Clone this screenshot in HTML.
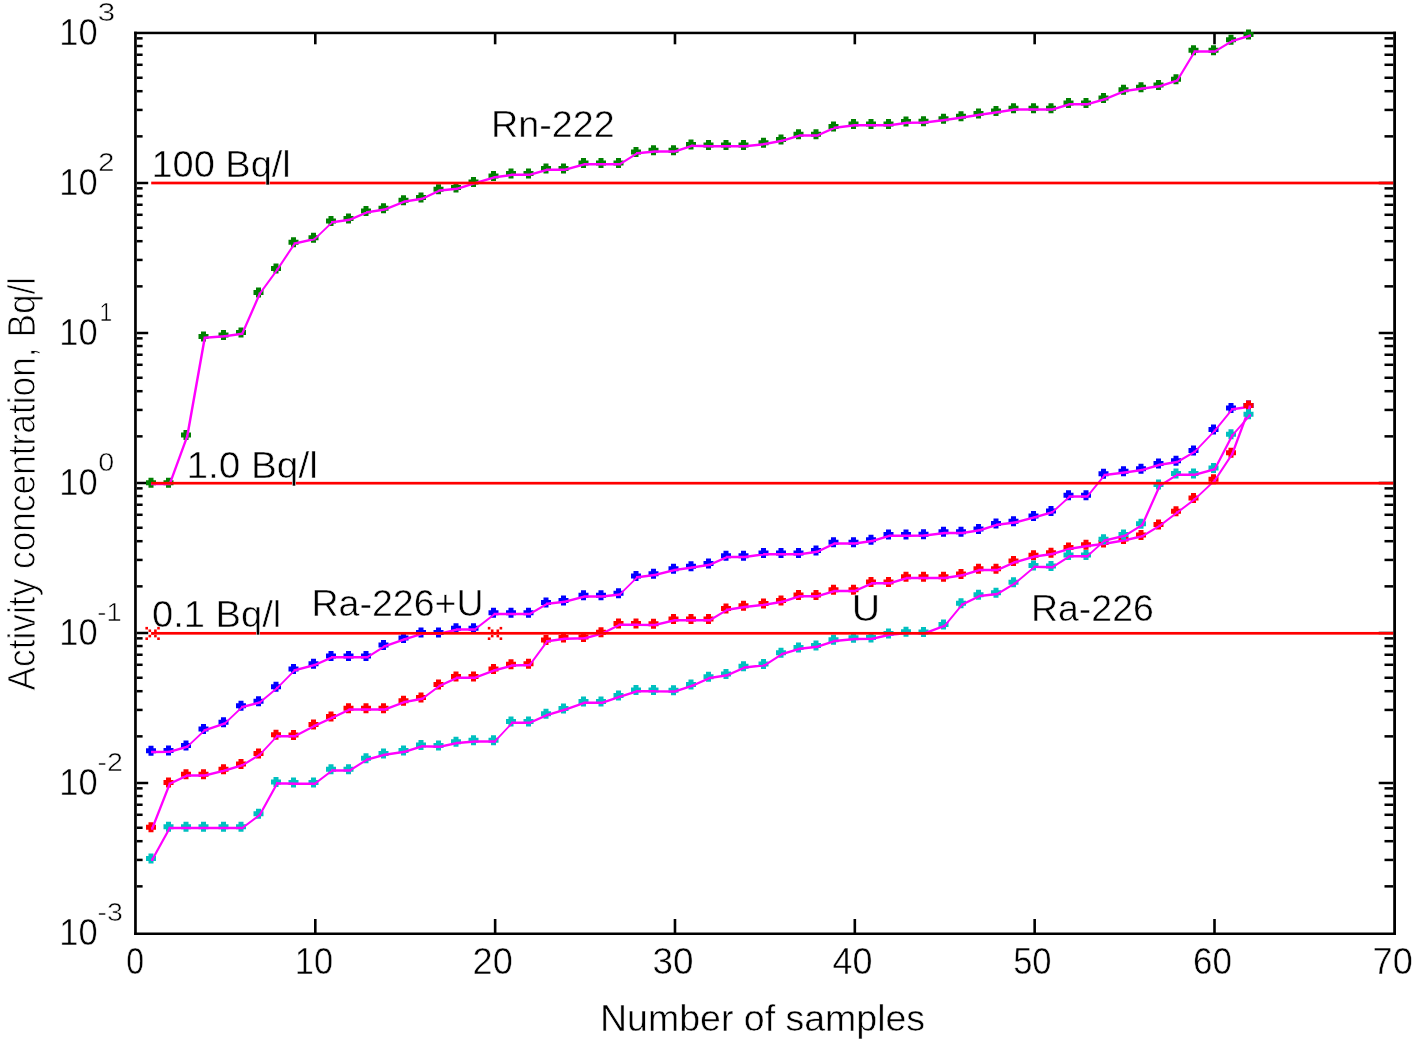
<!DOCTYPE html>
<html><head><meta charset="utf-8"><title>Activity concentration</title>
<style>html,body{margin:0;padding:0;background:#fff;overflow:hidden;}svg{display:block;}</style>
</head><body>
<svg width="1416" height="1041" viewBox="0 0 1416 1041">
<rect x="0" y="0" width="1416" height="1041" fill="#fff"/>
<g fill="#000">
<rect x="134.1" y="31.7" width="2.7" height="903.3"/>
<rect x="1393.2" y="31.7" width="2.8" height="903.3"/>
<rect x="134.1" y="31.7" width="1261.9" height="2.5"/>
<rect x="134.1" y="932.5" width="1261.9" height="2.5"/>
<rect x="136.8" y="885.10" width="5.8" height="2.5"/>
<rect x="1384.5" y="885.10" width="8.7" height="2.5"/>
<rect x="136.8" y="858.68" width="5.8" height="2.5"/>
<rect x="1384.5" y="858.68" width="8.7" height="2.5"/>
<rect x="136.8" y="839.94" width="5.8" height="2.5"/>
<rect x="1384.5" y="839.94" width="8.7" height="2.5"/>
<rect x="136.8" y="826.50" width="5.8" height="2.5"/>
<rect x="1384.5" y="826.50" width="8.7" height="2.5"/>
<rect x="136.8" y="813.53" width="5.8" height="2.5"/>
<rect x="1384.5" y="813.53" width="8.7" height="2.5"/>
<rect x="136.8" y="803.49" width="5.8" height="2.5"/>
<rect x="1384.5" y="803.49" width="8.7" height="2.5"/>
<rect x="136.8" y="794.79" width="5.8" height="2.5"/>
<rect x="1384.5" y="794.79" width="8.7" height="2.5"/>
<rect x="136.8" y="787.11" width="5.8" height="2.5"/>
<rect x="1384.5" y="787.11" width="8.7" height="2.5"/>
<rect x="136.8" y="781.75" width="11.4" height="2.5"/>
<rect x="1378.7" y="781.75" width="14.5" height="2.5"/>
<rect x="136.8" y="735.10" width="5.8" height="2.5"/>
<rect x="1384.5" y="735.10" width="8.7" height="2.5"/>
<rect x="136.8" y="708.68" width="5.8" height="2.5"/>
<rect x="1384.5" y="708.68" width="8.7" height="2.5"/>
<rect x="136.8" y="689.94" width="5.8" height="2.5"/>
<rect x="1384.5" y="689.94" width="8.7" height="2.5"/>
<rect x="136.8" y="676.50" width="5.8" height="2.5"/>
<rect x="1384.5" y="676.50" width="8.7" height="2.5"/>
<rect x="136.8" y="663.53" width="5.8" height="2.5"/>
<rect x="1384.5" y="663.53" width="8.7" height="2.5"/>
<rect x="136.8" y="653.49" width="5.8" height="2.5"/>
<rect x="1384.5" y="653.49" width="8.7" height="2.5"/>
<rect x="136.8" y="644.79" width="5.8" height="2.5"/>
<rect x="1384.5" y="644.79" width="8.7" height="2.5"/>
<rect x="136.8" y="637.11" width="5.8" height="2.5"/>
<rect x="1384.5" y="637.11" width="8.7" height="2.5"/>
<rect x="136.8" y="631.75" width="11.4" height="2.5"/>
<rect x="1378.7" y="631.75" width="14.5" height="2.5"/>
<rect x="136.8" y="585.10" width="5.8" height="2.5"/>
<rect x="1384.5" y="585.10" width="8.7" height="2.5"/>
<rect x="136.8" y="558.68" width="5.8" height="2.5"/>
<rect x="1384.5" y="558.68" width="8.7" height="2.5"/>
<rect x="136.8" y="539.94" width="5.8" height="2.5"/>
<rect x="1384.5" y="539.94" width="8.7" height="2.5"/>
<rect x="136.8" y="526.50" width="5.8" height="2.5"/>
<rect x="1384.5" y="526.50" width="8.7" height="2.5"/>
<rect x="136.8" y="513.53" width="5.8" height="2.5"/>
<rect x="1384.5" y="513.53" width="8.7" height="2.5"/>
<rect x="136.8" y="503.49" width="5.8" height="2.5"/>
<rect x="1384.5" y="503.49" width="8.7" height="2.5"/>
<rect x="136.8" y="494.79" width="5.8" height="2.5"/>
<rect x="1384.5" y="494.79" width="8.7" height="2.5"/>
<rect x="136.8" y="487.11" width="5.8" height="2.5"/>
<rect x="1384.5" y="487.11" width="8.7" height="2.5"/>
<rect x="136.8" y="481.75" width="11.4" height="2.5"/>
<rect x="1378.7" y="481.75" width="14.5" height="2.5"/>
<rect x="136.8" y="435.10" width="5.8" height="2.5"/>
<rect x="1384.5" y="435.10" width="8.7" height="2.5"/>
<rect x="136.8" y="408.68" width="5.8" height="2.5"/>
<rect x="1384.5" y="408.68" width="8.7" height="2.5"/>
<rect x="136.8" y="389.94" width="5.8" height="2.5"/>
<rect x="1384.5" y="389.94" width="8.7" height="2.5"/>
<rect x="136.8" y="376.50" width="5.8" height="2.5"/>
<rect x="1384.5" y="376.50" width="8.7" height="2.5"/>
<rect x="136.8" y="363.53" width="5.8" height="2.5"/>
<rect x="1384.5" y="363.53" width="8.7" height="2.5"/>
<rect x="136.8" y="353.49" width="5.8" height="2.5"/>
<rect x="1384.5" y="353.49" width="8.7" height="2.5"/>
<rect x="136.8" y="344.79" width="5.8" height="2.5"/>
<rect x="1384.5" y="344.79" width="8.7" height="2.5"/>
<rect x="136.8" y="337.11" width="5.8" height="2.5"/>
<rect x="1384.5" y="337.11" width="8.7" height="2.5"/>
<rect x="136.8" y="331.75" width="11.4" height="2.5"/>
<rect x="1378.7" y="331.75" width="14.5" height="2.5"/>
<rect x="136.8" y="285.10" width="5.8" height="2.5"/>
<rect x="1384.5" y="285.10" width="8.7" height="2.5"/>
<rect x="136.8" y="258.68" width="5.8" height="2.5"/>
<rect x="1384.5" y="258.68" width="8.7" height="2.5"/>
<rect x="136.8" y="239.94" width="5.8" height="2.5"/>
<rect x="1384.5" y="239.94" width="8.7" height="2.5"/>
<rect x="136.8" y="226.50" width="5.8" height="2.5"/>
<rect x="1384.5" y="226.50" width="8.7" height="2.5"/>
<rect x="136.8" y="213.53" width="5.8" height="2.5"/>
<rect x="1384.5" y="213.53" width="8.7" height="2.5"/>
<rect x="136.8" y="203.49" width="5.8" height="2.5"/>
<rect x="1384.5" y="203.49" width="8.7" height="2.5"/>
<rect x="136.8" y="194.79" width="5.8" height="2.5"/>
<rect x="1384.5" y="194.79" width="8.7" height="2.5"/>
<rect x="136.8" y="187.11" width="5.8" height="2.5"/>
<rect x="1384.5" y="187.11" width="8.7" height="2.5"/>
<rect x="136.8" y="181.75" width="11.4" height="2.5"/>
<rect x="1378.7" y="181.75" width="14.5" height="2.5"/>
<rect x="136.8" y="135.10" width="5.8" height="2.5"/>
<rect x="1384.5" y="135.10" width="8.7" height="2.5"/>
<rect x="136.8" y="108.68" width="5.8" height="2.5"/>
<rect x="1384.5" y="108.68" width="8.7" height="2.5"/>
<rect x="136.8" y="89.94" width="5.8" height="2.5"/>
<rect x="1384.5" y="89.94" width="8.7" height="2.5"/>
<rect x="136.8" y="76.50" width="5.8" height="2.5"/>
<rect x="1384.5" y="76.50" width="8.7" height="2.5"/>
<rect x="136.8" y="63.53" width="5.8" height="2.5"/>
<rect x="1384.5" y="63.53" width="8.7" height="2.5"/>
<rect x="136.8" y="53.49" width="5.8" height="2.5"/>
<rect x="1384.5" y="53.49" width="8.7" height="2.5"/>
<rect x="136.8" y="44.79" width="5.8" height="2.5"/>
<rect x="1384.5" y="44.79" width="8.7" height="2.5"/>
<rect x="136.8" y="37.11" width="5.8" height="2.5"/>
<rect x="1384.5" y="37.11" width="8.7" height="2.5"/>
<rect x="314.00" y="919.0" width="2.6" height="14"/>
<rect x="314.00" y="33" width="2.6" height="11.3"/>
<rect x="493.84" y="919.0" width="2.6" height="14"/>
<rect x="493.84" y="33" width="2.6" height="11.3"/>
<rect x="673.68" y="919.0" width="2.6" height="14"/>
<rect x="673.68" y="33" width="2.6" height="11.3"/>
<rect x="853.52" y="919.0" width="2.6" height="14"/>
<rect x="853.52" y="33" width="2.6" height="11.3"/>
<rect x="1033.36" y="919.0" width="2.6" height="14"/>
<rect x="1033.36" y="33" width="2.6" height="11.3"/>
<rect x="1213.20" y="919.0" width="2.6" height="14"/>
<rect x="1213.20" y="33" width="2.6" height="11.3"/>
</g>
<path d="M148.50,477.70h5v2.5h2.5v5h-2.5v2.5h-5v-2.5h-2.5v-5h2.5zM166.00,477.70h5v2.5h2.5v5h-2.5v2.5h-5v-2.5h-2.5v-5h2.5zM183.50,430.00h5v2.5h2.5v5h-2.5v2.5h-5v-2.5h-2.5v-5h2.5zM201.00,331.50h5v2.5h2.5v5h-2.5v2.5h-5v-2.5h-2.5v-5h2.5zM221.00,330.00h5v2.5h2.5v5h-2.5v2.5h-5v-2.5h-2.5v-5h2.5zM238.50,327.50h5v2.5h2.5v5h-2.5v2.5h-5v-2.5h-2.5v-5h2.5zM256.00,287.60h5v2.5h2.5v5h-2.5v2.5h-5v-2.5h-2.5v-5h2.5zM273.50,263.40h5v2.5h2.5v5h-2.5v2.5h-5v-2.5h-2.5v-5h2.5zM291.00,237.20h5v2.5h2.5v5h-2.5v2.5h-5v-2.5h-2.5v-5h2.5zM311.00,232.70h5v2.5h2.5v5h-2.5v2.5h-5v-2.5h-2.5v-5h2.5zM328.50,215.90h5v2.5h2.5v5h-2.5v2.5h-5v-2.5h-2.5v-5h2.5zM346.00,213.50h5v2.5h2.5v5h-2.5v2.5h-5v-2.5h-2.5v-5h2.5zM363.50,206.00h5v2.5h2.5v5h-2.5v2.5h-5v-2.5h-2.5v-5h2.5zM381.00,203.20h5v2.5h2.5v5h-2.5v2.5h-5v-2.5h-2.5v-5h2.5zM401.00,195.20h5v2.5h2.5v5h-2.5v2.5h-5v-2.5h-2.5v-5h2.5zM418.50,192.60h5v2.5h2.5v5h-2.5v2.5h-5v-2.5h-2.5v-5h2.5zM436.00,184.30h5v2.5h2.5v5h-2.5v2.5h-5v-2.5h-2.5v-5h2.5zM453.50,182.60h5v2.5h2.5v5h-2.5v2.5h-5v-2.5h-2.5v-5h2.5zM471.00,176.90h5v2.5h2.5v5h-2.5v2.5h-5v-2.5h-2.5v-5h2.5zM491.00,171.10h5v2.5h2.5v5h-2.5v2.5h-5v-2.5h-2.5v-5h2.5zM508.50,168.60h5v2.5h2.5v5h-2.5v2.5h-5v-2.5h-2.5v-5h2.5zM526.00,168.60h5v2.5h2.5v5h-2.5v2.5h-5v-2.5h-2.5v-5h2.5zM543.50,163.40h5v2.5h2.5v5h-2.5v2.5h-5v-2.5h-2.5v-5h2.5zM561.00,163.40h5v2.5h2.5v5h-2.5v2.5h-5v-2.5h-2.5v-5h2.5zM581.00,158.00h5v2.5h2.5v5h-2.5v2.5h-5v-2.5h-2.5v-5h2.5zM598.50,158.00h5v2.5h2.5v5h-2.5v2.5h-5v-2.5h-2.5v-5h2.5zM616.00,158.00h5v2.5h2.5v5h-2.5v2.5h-5v-2.5h-2.5v-5h2.5zM633.50,147.10h5v2.5h2.5v5h-2.5v2.5h-5v-2.5h-2.5v-5h2.5zM651.00,145.30h5v2.5h2.5v5h-2.5v2.5h-5v-2.5h-2.5v-5h2.5zM671.00,145.30h5v2.5h2.5v5h-2.5v2.5h-5v-2.5h-2.5v-5h2.5zM688.50,139.50h5v2.5h2.5v5h-2.5v2.5h-5v-2.5h-2.5v-5h2.5zM706.00,140.10h5v2.5h2.5v5h-2.5v2.5h-5v-2.5h-2.5v-5h2.5zM723.50,140.10h5v2.5h2.5v5h-2.5v2.5h-5v-2.5h-2.5v-5h2.5zM741.00,140.10h5v2.5h2.5v5h-2.5v2.5h-5v-2.5h-2.5v-5h2.5zM761.00,137.80h5v2.5h2.5v5h-2.5v2.5h-5v-2.5h-2.5v-5h2.5zM778.50,134.40h5v2.5h2.5v5h-2.5v2.5h-5v-2.5h-2.5v-5h2.5zM796.00,129.20h5v2.5h2.5v5h-2.5v2.5h-5v-2.5h-2.5v-5h2.5zM813.50,129.20h5v2.5h2.5v5h-2.5v2.5h-5v-2.5h-2.5v-5h2.5zM831.00,121.50h5v2.5h2.5v5h-2.5v2.5h-5v-2.5h-2.5v-5h2.5zM851.00,119.00h5v2.5h2.5v5h-2.5v2.5h-5v-2.5h-2.5v-5h2.5zM868.50,119.00h5v2.5h2.5v5h-2.5v2.5h-5v-2.5h-2.5v-5h2.5zM886.00,119.00h5v2.5h2.5v5h-2.5v2.5h-5v-2.5h-2.5v-5h2.5zM903.50,116.60h5v2.5h2.5v5h-2.5v2.5h-5v-2.5h-2.5v-5h2.5zM921.00,116.30h5v2.5h2.5v5h-2.5v2.5h-5v-2.5h-2.5v-5h2.5zM941.00,113.80h5v2.5h2.5v5h-2.5v2.5h-5v-2.5h-2.5v-5h2.5zM958.50,111.20h5v2.5h2.5v5h-2.5v2.5h-5v-2.5h-2.5v-5h2.5zM976.00,108.50h5v2.5h2.5v5h-2.5v2.5h-5v-2.5h-2.5v-5h2.5zM993.50,106.00h5v2.5h2.5v5h-2.5v2.5h-5v-2.5h-2.5v-5h2.5zM1011.00,103.20h5v2.5h2.5v5h-2.5v2.5h-5v-2.5h-2.5v-5h2.5zM1031.00,103.20h5v2.5h2.5v5h-2.5v2.5h-5v-2.5h-2.5v-5h2.5zM1048.50,103.20h5v2.5h2.5v5h-2.5v2.5h-5v-2.5h-2.5v-5h2.5zM1066.00,97.90h5v2.5h2.5v5h-2.5v2.5h-5v-2.5h-2.5v-5h2.5zM1083.50,98.10h5v2.5h2.5v5h-2.5v2.5h-5v-2.5h-2.5v-5h2.5zM1101.00,93.00h5v2.5h2.5v5h-2.5v2.5h-5v-2.5h-2.5v-5h2.5zM1121.00,84.80h5v2.5h2.5v5h-2.5v2.5h-5v-2.5h-2.5v-5h2.5zM1138.50,82.30h5v2.5h2.5v5h-2.5v2.5h-5v-2.5h-2.5v-5h2.5zM1156.00,79.90h5v2.5h2.5v5h-2.5v2.5h-5v-2.5h-2.5v-5h2.5zM1173.50,74.20h5v2.5h2.5v5h-2.5v2.5h-5v-2.5h-2.5v-5h2.5zM1191.00,45.30h5v2.5h2.5v5h-2.5v2.5h-5v-2.5h-2.5v-5h2.5zM1211.00,45.30h5v2.5h2.5v5h-2.5v2.5h-5v-2.5h-2.5v-5h2.5zM1228.50,34.70h5v2.5h2.5v5h-2.5v2.5h-5v-2.5h-2.5v-5h2.5zM1246.00,29.40h5v2.5h2.5v5h-2.5v2.5h-5v-2.5h-2.5v-5h2.5z" fill="#008000"/>
<path d="M152.25,482.70L169.75,482.70L169.75,485.20L152.25,485.20zM168.50,483.95L186.00,436.25L188.50,436.25L171.00,483.95zM186.00,436.25L203.50,337.75L206.00,337.75L188.50,436.25zM204.75,336.50L224.75,335.00L224.75,337.50L204.75,339.00zM224.75,335.00L242.25,332.50L242.25,335.00L224.75,337.50zM241.00,333.75L258.50,293.85L261.00,293.85L243.50,333.75zM258.50,293.85L276.00,269.65L278.50,269.65L261.00,293.85zM276.00,269.65L293.50,243.45L296.00,243.45L278.50,269.65zM294.75,242.20L314.75,237.70L314.75,240.20L294.75,244.70zM314.75,237.70L332.25,220.90L332.25,223.40L314.75,240.20zM332.25,220.90L349.75,218.50L349.75,221.00L332.25,223.40zM349.75,218.50L367.25,211.00L367.25,213.50L349.75,221.00zM367.25,211.00L384.75,208.20L384.75,210.70L367.25,213.50zM384.75,208.20L404.75,200.20L404.75,202.70L384.75,210.70zM404.75,200.20L422.25,197.60L422.25,200.10L404.75,202.70zM422.25,197.60L439.75,189.30L439.75,191.80L422.25,200.10zM439.75,189.30L457.25,187.60L457.25,190.10L439.75,191.80zM457.25,187.60L474.75,181.90L474.75,184.40L457.25,190.10zM474.75,181.90L494.75,176.10L494.75,178.60L474.75,184.40zM494.75,176.10L512.25,173.60L512.25,176.10L494.75,178.60zM512.25,173.60L529.75,173.60L529.75,176.10L512.25,176.10zM529.75,173.60L547.25,168.40L547.25,170.90L529.75,176.10zM547.25,168.40L564.75,168.40L564.75,170.90L547.25,170.90zM564.75,168.40L584.75,163.00L584.75,165.50L564.75,170.90zM584.75,163.00L602.25,163.00L602.25,165.50L584.75,165.50zM602.25,163.00L619.75,163.00L619.75,165.50L602.25,165.50zM619.75,163.00L637.25,152.10L637.25,154.60L619.75,165.50zM637.25,152.10L654.75,150.30L654.75,152.80L637.25,154.60zM654.75,150.30L674.75,150.30L674.75,152.80L654.75,152.80zM674.75,150.30L692.25,144.50L692.25,147.00L674.75,152.80zM692.25,144.50L709.75,145.10L709.75,147.60L692.25,147.00zM709.75,145.10L727.25,145.10L727.25,147.60L709.75,147.60zM727.25,145.10L744.75,145.10L744.75,147.60L727.25,147.60zM744.75,145.10L764.75,142.80L764.75,145.30L744.75,147.60zM764.75,142.80L782.25,139.40L782.25,141.90L764.75,145.30zM782.25,139.40L799.75,134.20L799.75,136.70L782.25,141.90zM799.75,134.20L817.25,134.20L817.25,136.70L799.75,136.70zM817.25,134.20L834.75,126.50L834.75,129.00L817.25,136.70zM834.75,126.50L854.75,124.00L854.75,126.50L834.75,129.00zM854.75,124.00L872.25,124.00L872.25,126.50L854.75,126.50zM872.25,124.00L889.75,124.00L889.75,126.50L872.25,126.50zM889.75,124.00L907.25,121.60L907.25,124.10L889.75,126.50zM907.25,121.60L924.75,121.30L924.75,123.80L907.25,124.10zM924.75,121.30L944.75,118.80L944.75,121.30L924.75,123.80zM944.75,118.80L962.25,116.20L962.25,118.70L944.75,121.30zM962.25,116.20L979.75,113.50L979.75,116.00L962.25,118.70zM979.75,113.50L997.25,111.00L997.25,113.50L979.75,116.00zM997.25,111.00L1014.75,108.20L1014.75,110.70L997.25,113.50zM1014.75,108.20L1034.75,108.20L1034.75,110.70L1014.75,110.70zM1034.75,108.20L1052.25,108.20L1052.25,110.70L1034.75,110.70zM1052.25,108.20L1069.75,102.90L1069.75,105.40L1052.25,110.70zM1069.75,102.90L1087.25,103.10L1087.25,105.60L1069.75,105.40zM1087.25,103.10L1104.75,98.00L1104.75,100.50L1087.25,105.60zM1104.75,98.00L1124.75,89.80L1124.75,92.30L1104.75,100.50zM1124.75,89.80L1142.25,87.30L1142.25,89.80L1124.75,92.30zM1142.25,87.30L1159.75,84.90L1159.75,87.40L1142.25,89.80zM1159.75,84.90L1177.25,79.20L1177.25,81.70L1159.75,87.40zM1176.00,80.45L1193.50,51.55L1196.00,51.55L1178.50,80.45zM1194.75,50.30L1214.75,50.30L1214.75,52.80L1194.75,52.80zM1214.75,50.30L1232.25,39.70L1232.25,42.20L1214.75,52.80zM1232.25,39.70L1249.75,34.40L1249.75,36.90L1232.25,42.20zM151.00,482.70h2.5v2.5h-2.5zM168.50,482.70h2.5v2.5h-2.5zM186.00,435.00h2.5v2.5h-2.5zM203.50,336.50h2.5v2.5h-2.5zM223.50,335.00h2.5v2.5h-2.5zM241.00,332.50h2.5v2.5h-2.5zM258.50,292.60h2.5v2.5h-2.5zM276.00,268.40h2.5v2.5h-2.5zM293.50,242.20h2.5v2.5h-2.5zM313.50,237.70h2.5v2.5h-2.5zM331.00,220.90h2.5v2.5h-2.5zM348.50,218.50h2.5v2.5h-2.5zM366.00,211.00h2.5v2.5h-2.5zM383.50,208.20h2.5v2.5h-2.5zM403.50,200.20h2.5v2.5h-2.5zM421.00,197.60h2.5v2.5h-2.5zM438.50,189.30h2.5v2.5h-2.5zM456.00,187.60h2.5v2.5h-2.5zM473.50,181.90h2.5v2.5h-2.5zM493.50,176.10h2.5v2.5h-2.5zM511.00,173.60h2.5v2.5h-2.5zM528.50,173.60h2.5v2.5h-2.5zM546.00,168.40h2.5v2.5h-2.5zM563.50,168.40h2.5v2.5h-2.5zM583.50,163.00h2.5v2.5h-2.5zM601.00,163.00h2.5v2.5h-2.5zM618.50,163.00h2.5v2.5h-2.5zM636.00,152.10h2.5v2.5h-2.5zM653.50,150.30h2.5v2.5h-2.5zM673.50,150.30h2.5v2.5h-2.5zM691.00,144.50h2.5v2.5h-2.5zM708.50,145.10h2.5v2.5h-2.5zM726.00,145.10h2.5v2.5h-2.5zM743.50,145.10h2.5v2.5h-2.5zM763.50,142.80h2.5v2.5h-2.5zM781.00,139.40h2.5v2.5h-2.5zM798.50,134.20h2.5v2.5h-2.5zM816.00,134.20h2.5v2.5h-2.5zM833.50,126.50h2.5v2.5h-2.5zM853.50,124.00h2.5v2.5h-2.5zM871.00,124.00h2.5v2.5h-2.5zM888.50,124.00h2.5v2.5h-2.5zM906.00,121.60h2.5v2.5h-2.5zM923.50,121.30h2.5v2.5h-2.5zM943.50,118.80h2.5v2.5h-2.5zM961.00,116.20h2.5v2.5h-2.5zM978.50,113.50h2.5v2.5h-2.5zM996.00,111.00h2.5v2.5h-2.5zM1013.50,108.20h2.5v2.5h-2.5zM1033.50,108.20h2.5v2.5h-2.5zM1051.00,108.20h2.5v2.5h-2.5zM1068.50,102.90h2.5v2.5h-2.5zM1086.00,103.10h2.5v2.5h-2.5zM1103.50,98.00h2.5v2.5h-2.5zM1123.50,89.80h2.5v2.5h-2.5zM1141.00,87.30h2.5v2.5h-2.5zM1158.50,84.90h2.5v2.5h-2.5zM1176.00,79.20h2.5v2.5h-2.5zM1193.50,50.30h2.5v2.5h-2.5zM1213.50,50.30h2.5v2.5h-2.5zM1231.00,39.70h2.5v2.5h-2.5zM1248.50,34.40h2.5v2.5h-2.5z" fill="#ff00ff"/>
<path d="M148.50,745.70h5v2.5h2.5v5h-2.5v2.5h-5v-2.5h-2.5v-5h2.5zM166.00,745.60h5v2.5h2.5v5h-2.5v2.5h-5v-2.5h-2.5v-5h2.5zM183.50,740.50h5v2.5h2.5v5h-2.5v2.5h-5v-2.5h-2.5v-5h2.5zM201.00,723.90h5v2.5h2.5v5h-2.5v2.5h-5v-2.5h-2.5v-5h2.5zM221.00,717.20h5v2.5h2.5v5h-2.5v2.5h-5v-2.5h-2.5v-5h2.5zM238.50,700.80h5v2.5h2.5v5h-2.5v2.5h-5v-2.5h-2.5v-5h2.5zM256.00,696.20h5v2.5h2.5v5h-2.5v2.5h-5v-2.5h-2.5v-5h2.5zM273.50,681.80h5v2.5h2.5v5h-2.5v2.5h-5v-2.5h-2.5v-5h2.5zM291.00,664.00h5v2.5h2.5v5h-2.5v2.5h-5v-2.5h-2.5v-5h2.5zM311.00,658.80h5v2.5h2.5v5h-2.5v2.5h-5v-2.5h-2.5v-5h2.5zM328.50,651.10h5v2.5h2.5v5h-2.5v2.5h-5v-2.5h-2.5v-5h2.5zM346.00,651.10h5v2.5h2.5v5h-2.5v2.5h-5v-2.5h-2.5v-5h2.5zM363.50,651.10h5v2.5h2.5v5h-2.5v2.5h-5v-2.5h-2.5v-5h2.5zM381.00,639.90h5v2.5h2.5v5h-2.5v2.5h-5v-2.5h-2.5v-5h2.5zM401.00,633.10h5v2.5h2.5v5h-2.5v2.5h-5v-2.5h-2.5v-5h2.5zM418.50,627.60h5v2.5h2.5v5h-2.5v2.5h-5v-2.5h-2.5v-5h2.5zM436.00,627.60h5v2.5h2.5v5h-2.5v2.5h-5v-2.5h-2.5v-5h2.5zM453.50,623.20h5v2.5h2.5v5h-2.5v2.5h-5v-2.5h-2.5v-5h2.5zM471.00,623.20h5v2.5h2.5v5h-2.5v2.5h-5v-2.5h-2.5v-5h2.5zM491.00,607.80h5v2.5h2.5v5h-2.5v2.5h-5v-2.5h-2.5v-5h2.5zM508.50,607.80h5v2.5h2.5v5h-2.5v2.5h-5v-2.5h-2.5v-5h2.5zM526.00,607.80h5v2.5h2.5v5h-2.5v2.5h-5v-2.5h-2.5v-5h2.5zM543.50,597.50h5v2.5h2.5v5h-2.5v2.5h-5v-2.5h-2.5v-5h2.5zM561.00,595.40h5v2.5h2.5v5h-2.5v2.5h-5v-2.5h-2.5v-5h2.5zM581.00,590.20h5v2.5h2.5v5h-2.5v2.5h-5v-2.5h-2.5v-5h2.5zM598.50,590.20h5v2.5h2.5v5h-2.5v2.5h-5v-2.5h-2.5v-5h2.5zM616.00,588.30h5v2.5h2.5v5h-2.5v2.5h-5v-2.5h-2.5v-5h2.5zM633.50,571.00h5v2.5h2.5v5h-2.5v2.5h-5v-2.5h-2.5v-5h2.5zM651.00,568.80h5v2.5h2.5v5h-2.5v2.5h-5v-2.5h-2.5v-5h2.5zM671.00,563.80h5v2.5h2.5v5h-2.5v2.5h-5v-2.5h-2.5v-5h2.5zM688.50,561.30h5v2.5h2.5v5h-2.5v2.5h-5v-2.5h-2.5v-5h2.5zM706.00,558.40h5v2.5h2.5v5h-2.5v2.5h-5v-2.5h-2.5v-5h2.5zM723.50,550.70h5v2.5h2.5v5h-2.5v2.5h-5v-2.5h-2.5v-5h2.5zM741.00,550.70h5v2.5h2.5v5h-2.5v2.5h-5v-2.5h-2.5v-5h2.5zM761.00,547.90h5v2.5h2.5v5h-2.5v2.5h-5v-2.5h-2.5v-5h2.5zM778.50,547.90h5v2.5h2.5v5h-2.5v2.5h-5v-2.5h-2.5v-5h2.5zM796.00,547.90h5v2.5h2.5v5h-2.5v2.5h-5v-2.5h-2.5v-5h2.5zM813.50,545.40h5v2.5h2.5v5h-2.5v2.5h-5v-2.5h-2.5v-5h2.5zM831.00,537.30h5v2.5h2.5v5h-2.5v2.5h-5v-2.5h-2.5v-5h2.5zM851.00,537.30h5v2.5h2.5v5h-2.5v2.5h-5v-2.5h-2.5v-5h2.5zM868.50,534.80h5v2.5h2.5v5h-2.5v2.5h-5v-2.5h-2.5v-5h2.5zM886.00,529.60h5v2.5h2.5v5h-2.5v2.5h-5v-2.5h-2.5v-5h2.5zM903.50,529.40h5v2.5h2.5v5h-2.5v2.5h-5v-2.5h-2.5v-5h2.5zM921.00,529.20h5v2.5h2.5v5h-2.5v2.5h-5v-2.5h-2.5v-5h2.5zM941.00,526.70h5v2.5h2.5v5h-2.5v2.5h-5v-2.5h-2.5v-5h2.5zM958.50,526.70h5v2.5h2.5v5h-2.5v2.5h-5v-2.5h-2.5v-5h2.5zM976.00,524.00h5v2.5h2.5v5h-2.5v2.5h-5v-2.5h-2.5v-5h2.5zM993.50,518.60h5v2.5h2.5v5h-2.5v2.5h-5v-2.5h-2.5v-5h2.5zM1011.00,516.30h5v2.5h2.5v5h-2.5v2.5h-5v-2.5h-2.5v-5h2.5zM1031.00,510.90h5v2.5h2.5v5h-2.5v2.5h-5v-2.5h-2.5v-5h2.5zM1048.50,506.10h5v2.5h2.5v5h-2.5v2.5h-5v-2.5h-2.5v-5h2.5zM1066.00,490.20h5v2.5h2.5v5h-2.5v2.5h-5v-2.5h-2.5v-5h2.5zM1083.50,490.20h5v2.5h2.5v5h-2.5v2.5h-5v-2.5h-2.5v-5h2.5zM1101.00,468.70h5v2.5h2.5v5h-2.5v2.5h-5v-2.5h-2.5v-5h2.5zM1121.00,466.20h5v2.5h2.5v5h-2.5v2.5h-5v-2.5h-2.5v-5h2.5zM1138.50,463.80h5v2.5h2.5v5h-2.5v2.5h-5v-2.5h-2.5v-5h2.5zM1156.00,458.40h5v2.5h2.5v5h-2.5v2.5h-5v-2.5h-2.5v-5h2.5zM1173.50,455.80h5v2.5h2.5v5h-2.5v2.5h-5v-2.5h-2.5v-5h2.5zM1191.00,445.40h5v2.5h2.5v5h-2.5v2.5h-5v-2.5h-2.5v-5h2.5zM1211.00,424.50h5v2.5h2.5v5h-2.5v2.5h-5v-2.5h-2.5v-5h2.5zM1228.50,402.90h5v2.5h2.5v5h-2.5v2.5h-5v-2.5h-2.5v-5h2.5zM1246.00,400.60h5v2.5h2.5v5h-2.5v2.5h-5v-2.5h-2.5v-5h2.5z" fill="#0000ff"/>
<path d="M152.25,750.70L169.75,750.60L169.75,753.10L152.25,753.20zM169.75,750.60L187.25,745.50L187.25,748.00L169.75,753.10zM187.25,745.50L204.75,728.90L204.75,731.40L187.25,748.00zM204.75,728.90L224.75,722.20L224.75,724.70L204.75,731.40zM224.75,722.20L242.25,705.80L242.25,708.30L224.75,724.70zM242.25,705.80L259.75,701.20L259.75,703.70L242.25,708.30zM259.75,701.20L277.25,686.80L277.25,689.30L259.75,703.70zM276.00,688.05L293.50,670.25L296.00,670.25L278.50,688.05zM294.75,669.00L314.75,663.80L314.75,666.30L294.75,671.50zM314.75,663.80L332.25,656.10L332.25,658.60L314.75,666.30zM332.25,656.10L349.75,656.10L349.75,658.60L332.25,658.60zM349.75,656.10L367.25,656.10L367.25,658.60L349.75,658.60zM367.25,656.10L384.75,644.90L384.75,647.40L367.25,658.60zM384.75,644.90L404.75,638.10L404.75,640.60L384.75,647.40zM404.75,638.10L422.25,632.60L422.25,635.10L404.75,640.60zM422.25,632.60L439.75,632.60L439.75,635.10L422.25,635.10zM439.75,632.60L457.25,628.20L457.25,630.70L439.75,635.10zM457.25,628.20L474.75,628.20L474.75,630.70L457.25,630.70zM474.75,628.20L494.75,612.80L494.75,615.30L474.75,630.70zM494.75,612.80L512.25,612.80L512.25,615.30L494.75,615.30zM512.25,612.80L529.75,612.80L529.75,615.30L512.25,615.30zM529.75,612.80L547.25,602.50L547.25,605.00L529.75,615.30zM547.25,602.50L564.75,600.40L564.75,602.90L547.25,605.00zM564.75,600.40L584.75,595.20L584.75,597.70L564.75,602.90zM584.75,595.20L602.25,595.20L602.25,597.70L584.75,597.70zM602.25,595.20L619.75,593.30L619.75,595.80L602.25,597.70zM619.75,593.30L637.25,576.00L637.25,578.50L619.75,595.80zM637.25,576.00L654.75,573.80L654.75,576.30L637.25,578.50zM654.75,573.80L674.75,568.80L674.75,571.30L654.75,576.30zM674.75,568.80L692.25,566.30L692.25,568.80L674.75,571.30zM692.25,566.30L709.75,563.40L709.75,565.90L692.25,568.80zM709.75,563.40L727.25,555.70L727.25,558.20L709.75,565.90zM727.25,555.70L744.75,555.70L744.75,558.20L727.25,558.20zM744.75,555.70L764.75,552.90L764.75,555.40L744.75,558.20zM764.75,552.90L782.25,552.90L782.25,555.40L764.75,555.40zM782.25,552.90L799.75,552.90L799.75,555.40L782.25,555.40zM799.75,552.90L817.25,550.40L817.25,552.90L799.75,555.40zM817.25,550.40L834.75,542.30L834.75,544.80L817.25,552.90zM834.75,542.30L854.75,542.30L854.75,544.80L834.75,544.80zM854.75,542.30L872.25,539.80L872.25,542.30L854.75,544.80zM872.25,539.80L889.75,534.60L889.75,537.10L872.25,542.30zM889.75,534.60L907.25,534.40L907.25,536.90L889.75,537.10zM907.25,534.40L924.75,534.20L924.75,536.70L907.25,536.90zM924.75,534.20L944.75,531.70L944.75,534.20L924.75,536.70zM944.75,531.70L962.25,531.70L962.25,534.20L944.75,534.20zM962.25,531.70L979.75,529.00L979.75,531.50L962.25,534.20zM979.75,529.00L997.25,523.60L997.25,526.10L979.75,531.50zM997.25,523.60L1014.75,521.30L1014.75,523.80L997.25,526.10zM1014.75,521.30L1034.75,515.90L1034.75,518.40L1014.75,523.80zM1034.75,515.90L1052.25,511.10L1052.25,513.60L1034.75,518.40zM1052.25,511.10L1069.75,495.20L1069.75,497.70L1052.25,513.60zM1069.75,495.20L1087.25,495.20L1087.25,497.70L1069.75,497.70zM1086.00,496.45L1103.50,474.95L1106.00,474.95L1088.50,496.45zM1104.75,473.70L1124.75,471.20L1124.75,473.70L1104.75,476.20zM1124.75,471.20L1142.25,468.80L1142.25,471.30L1124.75,473.70zM1142.25,468.80L1159.75,463.40L1159.75,465.90L1142.25,471.30zM1159.75,463.40L1177.25,460.80L1177.25,463.30L1159.75,465.90zM1177.25,460.80L1194.75,450.40L1194.75,452.90L1177.25,463.30zM1193.50,451.65L1213.50,430.75L1216.00,430.75L1196.00,451.65zM1213.50,430.75L1231.00,409.15L1233.50,409.15L1216.00,430.75zM1232.25,407.90L1249.75,405.60L1249.75,408.10L1232.25,410.40zM151.00,750.70h2.5v2.5h-2.5zM168.50,750.60h2.5v2.5h-2.5zM186.00,745.50h2.5v2.5h-2.5zM203.50,728.90h2.5v2.5h-2.5zM223.50,722.20h2.5v2.5h-2.5zM241.00,705.80h2.5v2.5h-2.5zM258.50,701.20h2.5v2.5h-2.5zM276.00,686.80h2.5v2.5h-2.5zM293.50,669.00h2.5v2.5h-2.5zM313.50,663.80h2.5v2.5h-2.5zM331.00,656.10h2.5v2.5h-2.5zM348.50,656.10h2.5v2.5h-2.5zM366.00,656.10h2.5v2.5h-2.5zM383.50,644.90h2.5v2.5h-2.5zM403.50,638.10h2.5v2.5h-2.5zM421.00,632.60h2.5v2.5h-2.5zM438.50,632.60h2.5v2.5h-2.5zM456.00,628.20h2.5v2.5h-2.5zM473.50,628.20h2.5v2.5h-2.5zM493.50,612.80h2.5v2.5h-2.5zM511.00,612.80h2.5v2.5h-2.5zM528.50,612.80h2.5v2.5h-2.5zM546.00,602.50h2.5v2.5h-2.5zM563.50,600.40h2.5v2.5h-2.5zM583.50,595.20h2.5v2.5h-2.5zM601.00,595.20h2.5v2.5h-2.5zM618.50,593.30h2.5v2.5h-2.5zM636.00,576.00h2.5v2.5h-2.5zM653.50,573.80h2.5v2.5h-2.5zM673.50,568.80h2.5v2.5h-2.5zM691.00,566.30h2.5v2.5h-2.5zM708.50,563.40h2.5v2.5h-2.5zM726.00,555.70h2.5v2.5h-2.5zM743.50,555.70h2.5v2.5h-2.5zM763.50,552.90h2.5v2.5h-2.5zM781.00,552.90h2.5v2.5h-2.5zM798.50,552.90h2.5v2.5h-2.5zM816.00,550.40h2.5v2.5h-2.5zM833.50,542.30h2.5v2.5h-2.5zM853.50,542.30h2.5v2.5h-2.5zM871.00,539.80h2.5v2.5h-2.5zM888.50,534.60h2.5v2.5h-2.5zM906.00,534.40h2.5v2.5h-2.5zM923.50,534.20h2.5v2.5h-2.5zM943.50,531.70h2.5v2.5h-2.5zM961.00,531.70h2.5v2.5h-2.5zM978.50,529.00h2.5v2.5h-2.5zM996.00,523.60h2.5v2.5h-2.5zM1013.50,521.30h2.5v2.5h-2.5zM1033.50,515.90h2.5v2.5h-2.5zM1051.00,511.10h2.5v2.5h-2.5zM1068.50,495.20h2.5v2.5h-2.5zM1086.00,495.20h2.5v2.5h-2.5zM1103.50,473.70h2.5v2.5h-2.5zM1123.50,471.20h2.5v2.5h-2.5zM1141.00,468.80h2.5v2.5h-2.5zM1158.50,463.40h2.5v2.5h-2.5zM1176.00,460.80h2.5v2.5h-2.5zM1193.50,450.40h2.5v2.5h-2.5zM1213.50,429.50h2.5v2.5h-2.5zM1231.00,407.90h2.5v2.5h-2.5zM1248.50,405.60h2.5v2.5h-2.5z" fill="#ff00ff"/>
<path d="M148.50,822.20h5v2.5h2.5v5h-2.5v2.5h-5v-2.5h-2.5v-5h2.5zM166.00,777.50h5v2.5h2.5v5h-2.5v2.5h-5v-2.5h-2.5v-5h2.5zM183.50,769.30h5v2.5h2.5v5h-2.5v2.5h-5v-2.5h-2.5v-5h2.5zM201.00,769.30h5v2.5h2.5v5h-2.5v2.5h-5v-2.5h-2.5v-5h2.5zM221.00,764.20h5v2.5h2.5v5h-2.5v2.5h-5v-2.5h-2.5v-5h2.5zM238.50,759.10h5v2.5h2.5v5h-2.5v2.5h-5v-2.5h-2.5v-5h2.5zM256.00,748.60h5v2.5h2.5v5h-2.5v2.5h-5v-2.5h-2.5v-5h2.5zM273.50,729.70h5v2.5h2.5v5h-2.5v2.5h-5v-2.5h-2.5v-5h2.5zM291.00,729.90h5v2.5h2.5v5h-2.5v2.5h-5v-2.5h-2.5v-5h2.5zM311.00,719.40h5v2.5h2.5v5h-2.5v2.5h-5v-2.5h-2.5v-5h2.5zM328.50,711.60h5v2.5h2.5v5h-2.5v2.5h-5v-2.5h-2.5v-5h2.5zM346.00,703.30h5v2.5h2.5v5h-2.5v2.5h-5v-2.5h-2.5v-5h2.5zM363.50,703.30h5v2.5h2.5v5h-2.5v2.5h-5v-2.5h-2.5v-5h2.5zM381.00,703.30h5v2.5h2.5v5h-2.5v2.5h-5v-2.5h-2.5v-5h2.5zM401.00,695.70h5v2.5h2.5v5h-2.5v2.5h-5v-2.5h-2.5v-5h2.5zM418.50,692.60h5v2.5h2.5v5h-2.5v2.5h-5v-2.5h-2.5v-5h2.5zM436.00,679.50h5v2.5h2.5v5h-2.5v2.5h-5v-2.5h-2.5v-5h2.5zM453.50,671.40h5v2.5h2.5v5h-2.5v2.5h-5v-2.5h-2.5v-5h2.5zM471.00,671.40h5v2.5h2.5v5h-2.5v2.5h-5v-2.5h-2.5v-5h2.5zM491.00,664.10h5v2.5h2.5v5h-2.5v2.5h-5v-2.5h-2.5v-5h2.5zM508.50,659.30h5v2.5h2.5v5h-2.5v2.5h-5v-2.5h-2.5v-5h2.5zM526.00,658.80h5v2.5h2.5v5h-2.5v2.5h-5v-2.5h-2.5v-5h2.5zM543.50,634.90h5v2.5h2.5v5h-2.5v2.5h-5v-2.5h-2.5v-5h2.5zM561.00,632.40h5v2.5h2.5v5h-2.5v2.5h-5v-2.5h-2.5v-5h2.5zM581.00,632.10h5v2.5h2.5v5h-2.5v2.5h-5v-2.5h-2.5v-5h2.5zM598.50,627.20h5v2.5h2.5v5h-2.5v2.5h-5v-2.5h-2.5v-5h2.5zM616.00,618.60h5v2.5h2.5v5h-2.5v2.5h-5v-2.5h-2.5v-5h2.5zM633.50,618.60h5v2.5h2.5v5h-2.5v2.5h-5v-2.5h-2.5v-5h2.5zM651.00,618.70h5v2.5h2.5v5h-2.5v2.5h-5v-2.5h-2.5v-5h2.5zM671.00,614.10h5v2.5h2.5v5h-2.5v2.5h-5v-2.5h-2.5v-5h2.5zM688.50,614.10h5v2.5h2.5v5h-2.5v2.5h-5v-2.5h-2.5v-5h2.5zM706.00,614.10h5v2.5h2.5v5h-2.5v2.5h-5v-2.5h-2.5v-5h2.5zM723.50,603.60h5v2.5h2.5v5h-2.5v2.5h-5v-2.5h-2.5v-5h2.5zM741.00,600.70h5v2.5h2.5v5h-2.5v2.5h-5v-2.5h-2.5v-5h2.5zM761.00,598.40h5v2.5h2.5v5h-2.5v2.5h-5v-2.5h-2.5v-5h2.5zM778.50,595.50h5v2.5h2.5v5h-2.5v2.5h-5v-2.5h-2.5v-5h2.5zM796.00,590.10h5v2.5h2.5v5h-2.5v2.5h-5v-2.5h-2.5v-5h2.5zM813.50,590.10h5v2.5h2.5v5h-2.5v2.5h-5v-2.5h-2.5v-5h2.5zM831.00,584.70h5v2.5h2.5v5h-2.5v2.5h-5v-2.5h-2.5v-5h2.5zM851.00,584.70h5v2.5h2.5v5h-2.5v2.5h-5v-2.5h-2.5v-5h2.5zM868.50,577.10h5v2.5h2.5v5h-2.5v2.5h-5v-2.5h-2.5v-5h2.5zM886.00,577.10h5v2.5h2.5v5h-2.5v2.5h-5v-2.5h-2.5v-5h2.5zM903.50,571.80h5v2.5h2.5v5h-2.5v2.5h-5v-2.5h-2.5v-5h2.5zM921.00,571.80h5v2.5h2.5v5h-2.5v2.5h-5v-2.5h-2.5v-5h2.5zM941.00,571.80h5v2.5h2.5v5h-2.5v2.5h-5v-2.5h-2.5v-5h2.5zM958.50,569.10h5v2.5h2.5v5h-2.5v2.5h-5v-2.5h-2.5v-5h2.5zM976.00,563.70h5v2.5h2.5v5h-2.5v2.5h-5v-2.5h-2.5v-5h2.5zM993.50,563.70h5v2.5h2.5v5h-2.5v2.5h-5v-2.5h-2.5v-5h2.5zM1011.00,556.00h5v2.5h2.5v5h-2.5v2.5h-5v-2.5h-2.5v-5h2.5zM1031.00,550.30h5v2.5h2.5v5h-2.5v2.5h-5v-2.5h-2.5v-5h2.5zM1048.50,547.80h5v2.5h2.5v5h-2.5v2.5h-5v-2.5h-2.5v-5h2.5zM1066.00,542.60h5v2.5h2.5v5h-2.5v2.5h-5v-2.5h-2.5v-5h2.5zM1083.50,539.70h5v2.5h2.5v5h-2.5v2.5h-5v-2.5h-2.5v-5h2.5zM1101.00,537.40h5v2.5h2.5v5h-2.5v2.5h-5v-2.5h-2.5v-5h2.5zM1121.00,534.00h5v2.5h2.5v5h-2.5v2.5h-5v-2.5h-2.5v-5h2.5zM1138.50,529.90h5v2.5h2.5v5h-2.5v2.5h-5v-2.5h-2.5v-5h2.5zM1156.00,519.60h5v2.5h2.5v5h-2.5v2.5h-5v-2.5h-2.5v-5h2.5zM1173.50,506.30h5v2.5h2.5v5h-2.5v2.5h-5v-2.5h-2.5v-5h2.5zM1191.00,493.00h5v2.5h2.5v5h-2.5v2.5h-5v-2.5h-2.5v-5h2.5zM1211.00,474.20h5v2.5h2.5v5h-2.5v2.5h-5v-2.5h-2.5v-5h2.5zM1228.50,447.80h5v2.5h2.5v5h-2.5v2.5h-5v-2.5h-2.5v-5h2.5zM1246.00,400.50h5v2.5h2.5v5h-2.5v2.5h-5v-2.5h-2.5v-5h2.5z" fill="#ff0000"/>
<path d="M151.00,828.45L168.50,783.75L171.00,783.75L153.50,828.45zM169.75,782.50L187.25,774.30L187.25,776.80L169.75,785.00zM187.25,774.30L204.75,774.30L204.75,776.80L187.25,776.80zM204.75,774.30L224.75,769.20L224.75,771.70L204.75,776.80zM224.75,769.20L242.25,764.10L242.25,766.60L224.75,771.70zM242.25,764.10L259.75,753.60L259.75,756.10L242.25,766.60zM258.50,754.85L276.00,735.95L278.50,735.95L261.00,754.85zM277.25,734.70L294.75,734.90L294.75,737.40L277.25,737.20zM294.75,734.90L314.75,724.40L314.75,726.90L294.75,737.40zM314.75,724.40L332.25,716.60L332.25,719.10L314.75,726.90zM332.25,716.60L349.75,708.30L349.75,710.80L332.25,719.10zM349.75,708.30L367.25,708.30L367.25,710.80L349.75,710.80zM367.25,708.30L384.75,708.30L384.75,710.80L367.25,710.80zM384.75,708.30L404.75,700.70L404.75,703.20L384.75,710.80zM404.75,700.70L422.25,697.60L422.25,700.10L404.75,703.20zM422.25,697.60L439.75,684.50L439.75,687.00L422.25,700.10zM439.75,684.50L457.25,676.40L457.25,678.90L439.75,687.00zM457.25,676.40L474.75,676.40L474.75,678.90L457.25,678.90zM474.75,676.40L494.75,669.10L494.75,671.60L474.75,678.90zM494.75,669.10L512.25,664.30L512.25,666.80L494.75,671.60zM512.25,664.30L529.75,663.80L529.75,666.30L512.25,666.80zM528.50,665.05L546.00,641.15L548.50,641.15L531.00,665.05zM547.25,639.90L564.75,637.40L564.75,639.90L547.25,642.40zM564.75,637.40L584.75,637.10L584.75,639.60L564.75,639.90zM584.75,637.10L602.25,632.20L602.25,634.70L584.75,639.60zM602.25,632.20L619.75,623.60L619.75,626.10L602.25,634.70zM619.75,623.60L637.25,623.60L637.25,626.10L619.75,626.10zM637.25,623.60L654.75,623.70L654.75,626.20L637.25,626.10zM654.75,623.70L674.75,619.10L674.75,621.60L654.75,626.20zM674.75,619.10L692.25,619.10L692.25,621.60L674.75,621.60zM692.25,619.10L709.75,619.10L709.75,621.60L692.25,621.60zM709.75,619.10L727.25,608.60L727.25,611.10L709.75,621.60zM727.25,608.60L744.75,605.70L744.75,608.20L727.25,611.10zM744.75,605.70L764.75,603.40L764.75,605.90L744.75,608.20zM764.75,603.40L782.25,600.50L782.25,603.00L764.75,605.90zM782.25,600.50L799.75,595.10L799.75,597.60L782.25,603.00zM799.75,595.10L817.25,595.10L817.25,597.60L799.75,597.60zM817.25,595.10L834.75,589.70L834.75,592.20L817.25,597.60zM834.75,589.70L854.75,589.70L854.75,592.20L834.75,592.20zM854.75,589.70L872.25,582.10L872.25,584.60L854.75,592.20zM872.25,582.10L889.75,582.10L889.75,584.60L872.25,584.60zM889.75,582.10L907.25,576.80L907.25,579.30L889.75,584.60zM907.25,576.80L924.75,576.80L924.75,579.30L907.25,579.30zM924.75,576.80L944.75,576.80L944.75,579.30L924.75,579.30zM944.75,576.80L962.25,574.10L962.25,576.60L944.75,579.30zM962.25,574.10L979.75,568.70L979.75,571.20L962.25,576.60zM979.75,568.70L997.25,568.70L997.25,571.20L979.75,571.20zM997.25,568.70L1014.75,561.00L1014.75,563.50L997.25,571.20zM1014.75,561.00L1034.75,555.30L1034.75,557.80L1014.75,563.50zM1034.75,555.30L1052.25,552.80L1052.25,555.30L1034.75,557.80zM1052.25,552.80L1069.75,547.60L1069.75,550.10L1052.25,555.30zM1069.75,547.60L1087.25,544.70L1087.25,547.20L1069.75,550.10zM1087.25,544.70L1104.75,542.40L1104.75,544.90L1087.25,547.20zM1104.75,542.40L1124.75,539.00L1124.75,541.50L1104.75,544.90zM1124.75,539.00L1142.25,534.90L1142.25,537.40L1124.75,541.50zM1142.25,534.90L1159.75,524.60L1159.75,527.10L1142.25,537.40zM1159.75,524.60L1177.25,511.30L1177.25,513.80L1159.75,527.10zM1177.25,511.30L1194.75,498.00L1194.75,500.50L1177.25,513.80zM1194.75,498.00L1214.75,479.20L1214.75,481.70L1194.75,500.50zM1213.50,480.45L1231.00,454.05L1233.50,454.05L1216.00,480.45zM1231.00,454.05L1248.50,406.75L1251.00,406.75L1233.50,454.05zM151.00,827.20h2.5v2.5h-2.5zM168.50,782.50h2.5v2.5h-2.5zM186.00,774.30h2.5v2.5h-2.5zM203.50,774.30h2.5v2.5h-2.5zM223.50,769.20h2.5v2.5h-2.5zM241.00,764.10h2.5v2.5h-2.5zM258.50,753.60h2.5v2.5h-2.5zM276.00,734.70h2.5v2.5h-2.5zM293.50,734.90h2.5v2.5h-2.5zM313.50,724.40h2.5v2.5h-2.5zM331.00,716.60h2.5v2.5h-2.5zM348.50,708.30h2.5v2.5h-2.5zM366.00,708.30h2.5v2.5h-2.5zM383.50,708.30h2.5v2.5h-2.5zM403.50,700.70h2.5v2.5h-2.5zM421.00,697.60h2.5v2.5h-2.5zM438.50,684.50h2.5v2.5h-2.5zM456.00,676.40h2.5v2.5h-2.5zM473.50,676.40h2.5v2.5h-2.5zM493.50,669.10h2.5v2.5h-2.5zM511.00,664.30h2.5v2.5h-2.5zM528.50,663.80h2.5v2.5h-2.5zM546.00,639.90h2.5v2.5h-2.5zM563.50,637.40h2.5v2.5h-2.5zM583.50,637.10h2.5v2.5h-2.5zM601.00,632.20h2.5v2.5h-2.5zM618.50,623.60h2.5v2.5h-2.5zM636.00,623.60h2.5v2.5h-2.5zM653.50,623.70h2.5v2.5h-2.5zM673.50,619.10h2.5v2.5h-2.5zM691.00,619.10h2.5v2.5h-2.5zM708.50,619.10h2.5v2.5h-2.5zM726.00,608.60h2.5v2.5h-2.5zM743.50,605.70h2.5v2.5h-2.5zM763.50,603.40h2.5v2.5h-2.5zM781.00,600.50h2.5v2.5h-2.5zM798.50,595.10h2.5v2.5h-2.5zM816.00,595.10h2.5v2.5h-2.5zM833.50,589.70h2.5v2.5h-2.5zM853.50,589.70h2.5v2.5h-2.5zM871.00,582.10h2.5v2.5h-2.5zM888.50,582.10h2.5v2.5h-2.5zM906.00,576.80h2.5v2.5h-2.5zM923.50,576.80h2.5v2.5h-2.5zM943.50,576.80h2.5v2.5h-2.5zM961.00,574.10h2.5v2.5h-2.5zM978.50,568.70h2.5v2.5h-2.5zM996.00,568.70h2.5v2.5h-2.5zM1013.50,561.00h2.5v2.5h-2.5zM1033.50,555.30h2.5v2.5h-2.5zM1051.00,552.80h2.5v2.5h-2.5zM1068.50,547.60h2.5v2.5h-2.5zM1086.00,544.70h2.5v2.5h-2.5zM1103.50,542.40h2.5v2.5h-2.5zM1123.50,539.00h2.5v2.5h-2.5zM1141.00,534.90h2.5v2.5h-2.5zM1158.50,524.60h2.5v2.5h-2.5zM1176.00,511.30h2.5v2.5h-2.5zM1193.50,498.00h2.5v2.5h-2.5zM1213.50,479.20h2.5v2.5h-2.5zM1231.00,452.80h2.5v2.5h-2.5zM1248.50,405.50h2.5v2.5h-2.5z" fill="#ff00ff"/>
<path d="M148.50,853.50h5v2.5h2.5v5h-2.5v2.5h-5v-2.5h-2.5v-5h2.5zM166.00,821.80h5v2.5h2.5v5h-2.5v2.5h-5v-2.5h-2.5v-5h2.5zM183.50,821.80h5v2.5h2.5v5h-2.5v2.5h-5v-2.5h-2.5v-5h2.5zM201.00,821.80h5v2.5h2.5v5h-2.5v2.5h-5v-2.5h-2.5v-5h2.5zM221.00,821.80h5v2.5h2.5v5h-2.5v2.5h-5v-2.5h-2.5v-5h2.5zM238.50,821.80h5v2.5h2.5v5h-2.5v2.5h-5v-2.5h-2.5v-5h2.5zM256.00,808.80h5v2.5h2.5v5h-2.5v2.5h-5v-2.5h-2.5v-5h2.5zM273.50,777.10h5v2.5h2.5v5h-2.5v2.5h-5v-2.5h-2.5v-5h2.5zM291.00,777.60h5v2.5h2.5v5h-2.5v2.5h-5v-2.5h-2.5v-5h2.5zM311.00,777.60h5v2.5h2.5v5h-2.5v2.5h-5v-2.5h-2.5v-5h2.5zM328.50,764.20h5v2.5h2.5v5h-2.5v2.5h-5v-2.5h-2.5v-5h2.5zM346.00,764.20h5v2.5h2.5v5h-2.5v2.5h-5v-2.5h-2.5v-5h2.5zM363.50,753.20h5v2.5h2.5v5h-2.5v2.5h-5v-2.5h-2.5v-5h2.5zM381.00,748.40h5v2.5h2.5v5h-2.5v2.5h-5v-2.5h-2.5v-5h2.5zM401.00,745.60h5v2.5h2.5v5h-2.5v2.5h-5v-2.5h-2.5v-5h2.5zM418.50,740.00h5v2.5h2.5v5h-2.5v2.5h-5v-2.5h-2.5v-5h2.5zM436.00,740.60h5v2.5h2.5v5h-2.5v2.5h-5v-2.5h-2.5v-5h2.5zM453.50,736.70h5v2.5h2.5v5h-2.5v2.5h-5v-2.5h-2.5v-5h2.5zM471.00,735.20h5v2.5h2.5v5h-2.5v2.5h-5v-2.5h-2.5v-5h2.5zM491.00,735.20h5v2.5h2.5v5h-2.5v2.5h-5v-2.5h-2.5v-5h2.5zM508.50,716.60h5v2.5h2.5v5h-2.5v2.5h-5v-2.5h-2.5v-5h2.5zM526.00,716.60h5v2.5h2.5v5h-2.5v2.5h-5v-2.5h-2.5v-5h2.5zM543.50,708.70h5v2.5h2.5v5h-2.5v2.5h-5v-2.5h-2.5v-5h2.5zM561.00,703.50h5v2.5h2.5v5h-2.5v2.5h-5v-2.5h-2.5v-5h2.5zM581.00,696.40h5v2.5h2.5v5h-2.5v2.5h-5v-2.5h-2.5v-5h2.5zM598.50,696.40h5v2.5h2.5v5h-2.5v2.5h-5v-2.5h-2.5v-5h2.5zM616.00,690.60h5v2.5h2.5v5h-2.5v2.5h-5v-2.5h-2.5v-5h2.5zM633.50,684.90h5v2.5h2.5v5h-2.5v2.5h-5v-2.5h-2.5v-5h2.5zM651.00,685.10h5v2.5h2.5v5h-2.5v2.5h-5v-2.5h-2.5v-5h2.5zM671.00,685.20h5v2.5h2.5v5h-2.5v2.5h-5v-2.5h-2.5v-5h2.5zM688.50,679.40h5v2.5h2.5v5h-2.5v2.5h-5v-2.5h-2.5v-5h2.5zM706.00,671.80h5v2.5h2.5v5h-2.5v2.5h-5v-2.5h-2.5v-5h2.5zM723.50,668.90h5v2.5h2.5v5h-2.5v2.5h-5v-2.5h-2.5v-5h2.5zM741.00,661.20h5v2.5h2.5v5h-2.5v2.5h-5v-2.5h-2.5v-5h2.5zM761.00,658.90h5v2.5h2.5v5h-2.5v2.5h-5v-2.5h-2.5v-5h2.5zM778.50,647.70h5v2.5h2.5v5h-2.5v2.5h-5v-2.5h-2.5v-5h2.5zM796.00,642.60h5v2.5h2.5v5h-2.5v2.5h-5v-2.5h-2.5v-5h2.5zM813.50,640.60h5v2.5h2.5v5h-2.5v2.5h-5v-2.5h-2.5v-5h2.5zM831.00,634.70h5v2.5h2.5v5h-2.5v2.5h-5v-2.5h-2.5v-5h2.5zM851.00,632.80h5v2.5h2.5v5h-2.5v2.5h-5v-2.5h-2.5v-5h2.5zM868.50,632.40h5v2.5h2.5v5h-2.5v2.5h-5v-2.5h-2.5v-5h2.5zM886.00,628.50h5v2.5h2.5v5h-2.5v2.5h-5v-2.5h-2.5v-5h2.5zM903.50,626.80h5v2.5h2.5v5h-2.5v2.5h-5v-2.5h-2.5v-5h2.5zM921.00,627.10h5v2.5h2.5v5h-2.5v2.5h-5v-2.5h-2.5v-5h2.5zM941.00,619.40h5v2.5h2.5v5h-2.5v2.5h-5v-2.5h-2.5v-5h2.5zM958.50,598.30h5v2.5h2.5v5h-2.5v2.5h-5v-2.5h-2.5v-5h2.5zM976.00,589.70h5v2.5h2.5v5h-2.5v2.5h-5v-2.5h-2.5v-5h2.5zM993.50,587.70h5v2.5h2.5v5h-2.5v2.5h-5v-2.5h-2.5v-5h2.5zM1011.00,577.20h5v2.5h2.5v5h-2.5v2.5h-5v-2.5h-2.5v-5h2.5zM1031.00,560.50h5v2.5h2.5v5h-2.5v2.5h-5v-2.5h-2.5v-5h2.5zM1048.50,560.90h5v2.5h2.5v5h-2.5v2.5h-5v-2.5h-2.5v-5h2.5zM1066.00,549.90h5v2.5h2.5v5h-2.5v2.5h-5v-2.5h-2.5v-5h2.5zM1083.50,549.90h5v2.5h2.5v5h-2.5v2.5h-5v-2.5h-2.5v-5h2.5zM1101.00,534.30h5v2.5h2.5v5h-2.5v2.5h-5v-2.5h-2.5v-5h2.5zM1121.00,529.40h5v2.5h2.5v5h-2.5v2.5h-5v-2.5h-2.5v-5h2.5zM1138.50,518.80h5v2.5h2.5v5h-2.5v2.5h-5v-2.5h-2.5v-5h2.5zM1156.00,479.50h5v2.5h2.5v5h-2.5v2.5h-5v-2.5h-2.5v-5h2.5zM1173.50,468.60h5v2.5h2.5v5h-2.5v2.5h-5v-2.5h-2.5v-5h2.5zM1191.00,468.60h5v2.5h2.5v5h-2.5v2.5h-5v-2.5h-2.5v-5h2.5zM1211.00,463.00h5v2.5h2.5v5h-2.5v2.5h-5v-2.5h-2.5v-5h2.5zM1228.50,429.30h5v2.5h2.5v5h-2.5v2.5h-5v-2.5h-2.5v-5h2.5zM1246.00,409.30h5v2.5h2.5v5h-2.5v2.5h-5v-2.5h-2.5v-5h2.5z" fill="#00c0c0"/>
<path d="M151.00,859.75L168.50,828.05L171.00,828.05L153.50,859.75zM169.75,826.80L187.25,826.80L187.25,829.30L169.75,829.30zM187.25,826.80L204.75,826.80L204.75,829.30L187.25,829.30zM204.75,826.80L224.75,826.80L224.75,829.30L204.75,829.30zM224.75,826.80L242.25,826.80L242.25,829.30L224.75,829.30zM242.25,826.80L259.75,813.80L259.75,816.30L242.25,829.30zM258.50,815.05L276.00,783.35L278.50,783.35L261.00,815.05zM277.25,782.10L294.75,782.60L294.75,785.10L277.25,784.60zM294.75,782.60L314.75,782.60L314.75,785.10L294.75,785.10zM314.75,782.60L332.25,769.20L332.25,771.70L314.75,785.10zM332.25,769.20L349.75,769.20L349.75,771.70L332.25,771.70zM349.75,769.20L367.25,758.20L367.25,760.70L349.75,771.70zM367.25,758.20L384.75,753.40L384.75,755.90L367.25,760.70zM384.75,753.40L404.75,750.60L404.75,753.10L384.75,755.90zM404.75,750.60L422.25,745.00L422.25,747.50L404.75,753.10zM422.25,745.00L439.75,745.60L439.75,748.10L422.25,747.50zM439.75,745.60L457.25,741.70L457.25,744.20L439.75,748.10zM457.25,741.70L474.75,740.20L474.75,742.70L457.25,744.20zM474.75,740.20L494.75,740.20L494.75,742.70L474.75,742.70zM493.50,741.45L511.00,722.85L513.50,722.85L496.00,741.45zM512.25,721.60L529.75,721.60L529.75,724.10L512.25,724.10zM529.75,721.60L547.25,713.70L547.25,716.20L529.75,724.10zM547.25,713.70L564.75,708.50L564.75,711.00L547.25,716.20zM564.75,708.50L584.75,701.40L584.75,703.90L564.75,711.00zM584.75,701.40L602.25,701.40L602.25,703.90L584.75,703.90zM602.25,701.40L619.75,695.60L619.75,698.10L602.25,703.90zM619.75,695.60L637.25,689.90L637.25,692.40L619.75,698.10zM637.25,689.90L654.75,690.10L654.75,692.60L637.25,692.40zM654.75,690.10L674.75,690.20L674.75,692.70L654.75,692.60zM674.75,690.20L692.25,684.40L692.25,686.90L674.75,692.70zM692.25,684.40L709.75,676.80L709.75,679.30L692.25,686.90zM709.75,676.80L727.25,673.90L727.25,676.40L709.75,679.30zM727.25,673.90L744.75,666.20L744.75,668.70L727.25,676.40zM744.75,666.20L764.75,663.90L764.75,666.40L744.75,668.70zM764.75,663.90L782.25,652.70L782.25,655.20L764.75,666.40zM782.25,652.70L799.75,647.60L799.75,650.10L782.25,655.20zM799.75,647.60L817.25,645.60L817.25,648.10L799.75,650.10zM817.25,645.60L834.75,639.70L834.75,642.20L817.25,648.10zM834.75,639.70L854.75,637.80L854.75,640.30L834.75,642.20zM854.75,637.80L872.25,637.40L872.25,639.90L854.75,640.30zM872.25,637.40L889.75,633.50L889.75,636.00L872.25,639.90zM889.75,633.50L907.25,631.80L907.25,634.30L889.75,636.00zM907.25,631.80L924.75,632.10L924.75,634.60L907.25,634.30zM924.75,632.10L944.75,624.40L944.75,626.90L924.75,634.60zM943.50,625.65L961.00,604.55L963.50,604.55L946.00,625.65zM962.25,603.30L979.75,594.70L979.75,597.20L962.25,605.80zM979.75,594.70L997.25,592.70L997.25,595.20L979.75,597.20zM997.25,592.70L1014.75,582.20L1014.75,584.70L997.25,595.20zM1014.75,582.20L1034.75,565.50L1034.75,568.00L1014.75,584.70zM1034.75,565.50L1052.25,565.90L1052.25,568.40L1034.75,568.00zM1052.25,565.90L1069.75,554.90L1069.75,557.40L1052.25,568.40zM1069.75,554.90L1087.25,554.90L1087.25,557.40L1069.75,557.40zM1087.25,554.90L1104.75,539.30L1104.75,541.80L1087.25,557.40zM1104.75,539.30L1124.75,534.40L1124.75,536.90L1104.75,541.80zM1124.75,534.40L1142.25,523.80L1142.25,526.30L1124.75,536.90zM1141.00,525.05L1158.50,485.75L1161.00,485.75L1143.50,525.05zM1159.75,484.50L1177.25,473.60L1177.25,476.10L1159.75,487.00zM1177.25,473.60L1194.75,473.60L1194.75,476.10L1177.25,476.10zM1194.75,473.60L1214.75,468.00L1214.75,470.50L1194.75,476.10zM1213.50,469.25L1231.00,435.55L1233.50,435.55L1216.00,469.25zM1231.00,435.55L1248.50,415.55L1251.00,415.55L1233.50,435.55zM151.00,858.50h2.5v2.5h-2.5zM168.50,826.80h2.5v2.5h-2.5zM186.00,826.80h2.5v2.5h-2.5zM203.50,826.80h2.5v2.5h-2.5zM223.50,826.80h2.5v2.5h-2.5zM241.00,826.80h2.5v2.5h-2.5zM258.50,813.80h2.5v2.5h-2.5zM276.00,782.10h2.5v2.5h-2.5zM293.50,782.60h2.5v2.5h-2.5zM313.50,782.60h2.5v2.5h-2.5zM331.00,769.20h2.5v2.5h-2.5zM348.50,769.20h2.5v2.5h-2.5zM366.00,758.20h2.5v2.5h-2.5zM383.50,753.40h2.5v2.5h-2.5zM403.50,750.60h2.5v2.5h-2.5zM421.00,745.00h2.5v2.5h-2.5zM438.50,745.60h2.5v2.5h-2.5zM456.00,741.70h2.5v2.5h-2.5zM473.50,740.20h2.5v2.5h-2.5zM493.50,740.20h2.5v2.5h-2.5zM511.00,721.60h2.5v2.5h-2.5zM528.50,721.60h2.5v2.5h-2.5zM546.00,713.70h2.5v2.5h-2.5zM563.50,708.50h2.5v2.5h-2.5zM583.50,701.40h2.5v2.5h-2.5zM601.00,701.40h2.5v2.5h-2.5zM618.50,695.60h2.5v2.5h-2.5zM636.00,689.90h2.5v2.5h-2.5zM653.50,690.10h2.5v2.5h-2.5zM673.50,690.20h2.5v2.5h-2.5zM691.00,684.40h2.5v2.5h-2.5zM708.50,676.80h2.5v2.5h-2.5zM726.00,673.90h2.5v2.5h-2.5zM743.50,666.20h2.5v2.5h-2.5zM763.50,663.90h2.5v2.5h-2.5zM781.00,652.70h2.5v2.5h-2.5zM798.50,647.60h2.5v2.5h-2.5zM816.00,645.60h2.5v2.5h-2.5zM833.50,639.70h2.5v2.5h-2.5zM853.50,637.80h2.5v2.5h-2.5zM871.00,637.40h2.5v2.5h-2.5zM888.50,633.50h2.5v2.5h-2.5zM906.00,631.80h2.5v2.5h-2.5zM923.50,632.10h2.5v2.5h-2.5zM943.50,624.40h2.5v2.5h-2.5zM961.00,603.30h2.5v2.5h-2.5zM978.50,594.70h2.5v2.5h-2.5zM996.00,592.70h2.5v2.5h-2.5zM1013.50,582.20h2.5v2.5h-2.5zM1033.50,565.50h2.5v2.5h-2.5zM1051.00,565.90h2.5v2.5h-2.5zM1068.50,554.90h2.5v2.5h-2.5zM1086.00,554.90h2.5v2.5h-2.5zM1103.50,539.30h2.5v2.5h-2.5zM1123.50,534.40h2.5v2.5h-2.5zM1141.00,523.80h2.5v2.5h-2.5zM1158.50,484.50h2.5v2.5h-2.5zM1176.00,473.60h2.5v2.5h-2.5zM1193.50,473.60h2.5v2.5h-2.5zM1213.50,468.00h2.5v2.5h-2.5zM1231.00,434.30h2.5v2.5h-2.5zM1248.50,414.30h2.5v2.5h-2.5z" fill="#ff00ff"/>
<rect x="151.2" y="181.65" width="1242.00" height="2.7" fill="#ff0000"/>
<rect x="151.2" y="481.85" width="1242.00" height="2.7" fill="#ff0000"/>
<rect x="151.2" y="631.95" width="1242.00" height="2.7" fill="#ff0000"/>
<rect x="145.40" y="626.90" width="2.6" height="2.6" fill="#ff0000"/><rect x="145.40" y="637.40" width="2.6" height="2.6" fill="#ff0000"/><rect x="157.20" y="626.90" width="2.6" height="2.6" fill="#ff0000"/><rect x="157.20" y="637.40" width="2.6" height="2.6" fill="#ff0000"/><rect x="148.50" y="629.45" width="2.6" height="2.6" fill="#ff0000"/><rect x="148.50" y="634.75" width="2.6" height="2.6" fill="#ff0000"/><rect x="154.10" y="629.45" width="2.6" height="2.6" fill="#ff0000"/><rect x="154.10" y="634.75" width="2.6" height="2.6" fill="#ff0000"/><rect x="151.30" y="632.10" width="2.6" height="2.6" fill="#ff0000"/>
<rect x="487.80" y="626.90" width="2.6" height="2.6" fill="#ff0000"/><rect x="487.80" y="637.40" width="2.6" height="2.6" fill="#ff0000"/><rect x="499.60" y="626.90" width="2.6" height="2.6" fill="#ff0000"/><rect x="499.60" y="637.40" width="2.6" height="2.6" fill="#ff0000"/><rect x="490.90" y="629.45" width="2.6" height="2.6" fill="#ff0000"/><rect x="490.90" y="634.75" width="2.6" height="2.6" fill="#ff0000"/><rect x="496.50" y="629.45" width="2.6" height="2.6" fill="#ff0000"/><rect x="496.50" y="634.75" width="2.6" height="2.6" fill="#ff0000"/><rect x="493.70" y="632.10" width="2.6" height="2.6" fill="#ff0000"/>
<g font-family='"Liberation Sans", Arial, sans-serif' fill="#000">
<text font-size="37.5" stroke="#fff" stroke-width="0.5" textLength="123.63" lengthAdjust="spacingAndGlyphs" x="490.98" y="137.30">Rn-222</text>
<text font-size="37.5" stroke="#fff" stroke-width="0.5" textLength="139.29" lengthAdjust="spacingAndGlyphs" x="151.47" y="176.80">100 Bq/l</text>
<text font-size="37.5" stroke="#fff" stroke-width="0.5" textLength="131.35" lengthAdjust="spacingAndGlyphs" x="186.41" y="477.80">1.0 Bq/l</text>
<text font-size="37.5" stroke="#fff" stroke-width="0.5" textLength="129.27" lengthAdjust="spacingAndGlyphs" x="151.96" y="627.30">0.1 Bq/l</text>
<text font-size="37.5" stroke="#fff" stroke-width="0.5" textLength="171.99" lengthAdjust="spacingAndGlyphs" x="311.50" y="616.30">Ra-226+U</text>
<text font-size="37.5" stroke="#fff" stroke-width="0.5" textLength="28.38" lengthAdjust="spacingAndGlyphs" x="851.86" y="620.80">U</text>
<text font-size="37.5" stroke="#fff" stroke-width="0.5" textLength="122.80" lengthAdjust="spacingAndGlyphs" x="1031.00" y="620.80">Ra-226</text>
<text font-size="37.5" stroke="#fff" stroke-width="0.5" textLength="325.12" lengthAdjust="spacingAndGlyphs" x="600.00" y="1030.80">Number of samples</text>
<text font-size="37.5" stroke="#fff" stroke-width="0.5" textLength="17.77" lengthAdjust="spacingAndGlyphs" x="126.22" y="973.80">0</text>
<text font-size="37.5" stroke="#fff" stroke-width="0.5" textLength="38.26" lengthAdjust="spacingAndGlyphs" x="294.78" y="973.80">10</text>
<text font-size="37.5" stroke="#fff" stroke-width="0.5" textLength="40.18" lengthAdjust="spacingAndGlyphs" x="472.56" y="973.80">20</text>
<text font-size="37.5" stroke="#fff" stroke-width="0.5" textLength="41.07" lengthAdjust="spacingAndGlyphs" x="652.52" y="973.80">30</text>
<text font-size="37.5" stroke="#fff" stroke-width="0.5" textLength="40.02" lengthAdjust="spacingAndGlyphs" x="832.54" y="973.80">40</text>
<text font-size="37.5" stroke="#fff" stroke-width="0.5" textLength="38.44" lengthAdjust="spacingAndGlyphs" x="1013.16" y="973.80">50</text>
<text font-size="37.5" stroke="#fff" stroke-width="0.5" textLength="38.89" lengthAdjust="spacingAndGlyphs" x="1193.11" y="973.80">60</text>
<text font-size="37.5" stroke="#fff" stroke-width="0.5" textLength="40.18" lengthAdjust="spacingAndGlyphs" x="1372.56" y="973.80">70</text>
<text font-size="37.5" stroke="#fff" stroke-width="0.5" textLength="38.34" lengthAdjust="spacingAndGlyphs" x="59.24" y="944.80">10</text>
<text font-size="26.0" stroke="#fff" stroke-width="0.5" textLength="25.39" lengthAdjust="spacingAndGlyphs" x="97.59" y="921.39">-3</text>
<text font-size="37.5" stroke="#fff" stroke-width="0.5" textLength="38.34" lengthAdjust="spacingAndGlyphs" x="59.24" y="794.80">10</text>
<text font-size="26.0" stroke="#fff" stroke-width="0.5" textLength="25.39" lengthAdjust="spacingAndGlyphs" x="97.59" y="771.39">-2</text>
<text font-size="37.5" stroke="#fff" stroke-width="0.5" textLength="38.34" lengthAdjust="spacingAndGlyphs" x="59.24" y="644.80">10</text>
<text font-size="26.0" stroke="#fff" stroke-width="0.5" textLength="24.20" lengthAdjust="spacingAndGlyphs" x="97.39" y="621.39">-1</text>
<text font-size="37.5" stroke="#fff" stroke-width="0.5" textLength="38.34" lengthAdjust="spacingAndGlyphs" x="59.24" y="494.80">10</text>
<text font-size="26.0" stroke="#fff" stroke-width="0.5" textLength="15.96" lengthAdjust="spacingAndGlyphs" x="98.23" y="471.39">0</text>
<text font-size="37.5" stroke="#fff" stroke-width="0.5" textLength="38.34" lengthAdjust="spacingAndGlyphs" x="59.24" y="344.80">10</text>
<text font-size="26.0" stroke="#fff" stroke-width="0.5" textLength="12.69" lengthAdjust="spacingAndGlyphs" x="99.39" y="321.39">1</text>
<text font-size="37.5" stroke="#fff" stroke-width="0.5" textLength="38.34" lengthAdjust="spacingAndGlyphs" x="59.24" y="194.80">10</text>
<text font-size="26.0" stroke="#fff" stroke-width="0.5" textLength="16.46" lengthAdjust="spacingAndGlyphs" x="98.00" y="171.39">2</text>
<text font-size="37.5" stroke="#fff" stroke-width="0.5" textLength="38.34" lengthAdjust="spacingAndGlyphs" x="59.24" y="44.80">10</text>
<text font-size="26.0" stroke="#fff" stroke-width="0.5" textLength="17.80" lengthAdjust="spacingAndGlyphs" x="97.49" y="21.39">3</text>
<text font-size="38.0" stroke="#fff" stroke-width="0.9" textLength="413.58" lengthAdjust="spacingAndGlyphs" transform="translate(35.00,690.42) rotate(-90)" x="0" y="0">Activity concentration, Bq/l</text>
</g>
</svg>
</body></html>
